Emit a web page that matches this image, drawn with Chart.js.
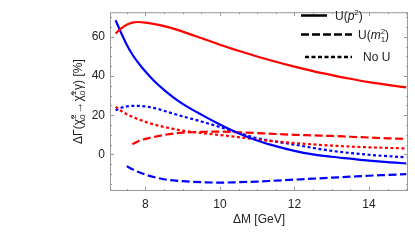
<!DOCTYPE html>
<html>
<head>
<meta charset="utf-8">
<script src="https://cdn.jsdelivr.net/npm/chart.js@4/dist/chart.umd.min.js"></script>
<style>
  html, body { margin: 0; padding: 0; background: #fff; }
  canvas { display: block; }
</style>
</head>
<body>
<canvas id="myChart" width="415" height="240"></canvas>
<script>
// ΔM grid [GeV]
const deltaM = [7.2, 7.35, 7.5, 7.65, 7.8, 8, 8.25, 8.5, 8.75, 9, 9.5, 10, 10.5, 11, 11.5, 12, 12.5, 13, 13.5, 14, 14.5, 15];

// U(p^2)
const redSolid  = [61.7, 64.3, 66.2, 67.3, 67.6, 67.3, 66.5, 65.5, 64.2, 62.7, 59.4, 56, 52.9, 50, 47.3, 44.8, 42.5, 40.5, 38.6, 36.9, 35.5, 34.2];
const blueSolid = [68.5, 62, 56, 51, 47, 42.3, 37.2, 32.9, 29.1, 25.8, 20.3, 15.3, 10.8, 7.1, 4.2, 1.8, 0, -1.2, -2.2, -3.2, -4, -4.6];
// U(m1^2)
const redDashed  = [null, null, null, 5.2, 6.6, 7.9, 9.0, 9.9, 10.6, 11.1, 11.5, 11.6, 11.3, 10.9, 10.4, 10, 9.7, 9.4, 9.0, 8.6, 8.2, 7.9];
const blueDashed = [null, null, -6, -7.6, -8.9, -10.3, -11.7, -12.7, -13.3, -13.7, -14.2, -14.4, -14.2, -13.9, -13.4, -12.9, -12.4, -11.9, -11.4, -10.9, -10.5, -10.1];
// No U
const redDotted  = [24.3, 22.2, 20.5, 19.2, 18, 16.6, 15.2, 14, 13, 12.1, 10.9, 9.9, 8.8, 7.6, 6.6, 5.8, 5.1, 4.5, 4, 3.6, 3.3, 3.0];
const blueDotted = [22.5, 23.8, 24.5, 24.8, 24.8, 24.5, 23.6, 22.3, 20.8, 19.4, 16.8, 14, 11, 8.3, 6.5, 5, 3.3, 1.8, 0.7, -0.2, -0.9, -1.5];

const xTickLabels = [8, 10, 12, 14];
const yTickLabels = [0, 20, 40, 60];
const legendLabels = ['U(p²)', 'U(m₁²)', 'No U'];

const FONT = '"Liberation Sans", Arial, sans-serif';
const dashes = { solid: [], dashed: [8, 3.5], dotted: [3, 2.5] };

function pts(ys) {
    return deltaM.map((x, i) => ({ x: x, y: ys[i] }));
}

function series(ys, color, dash) {
    return {
        data: pts(ys),
        borderColor: color,
        borderWidth: 2.2,
        borderDash: dash,
        pointRadius: 0,
        showLine: true,
        fill: false,
        cubicInterpolationMode: 'monotone'
    };
}

// frame with inward ticks, like the original
const framePlugin = {
    id: 'frame',
    afterDraw(chart) {
        const ctx = chart.ctx;
        const a = chart.chartArea;
        const xs = chart.scales.x, ys = chart.scales.y;
        ctx.save();
        ctx.strokeStyle = '#9a9a9a';
        ctx.lineWidth = 1;
        ctx.strokeRect(a.left + 0.5, a.top + 0.5, a.right - a.left - 1, a.bottom - a.top - 1);
        ctx.beginPath();
        for (let v = 7.5; v <= 15; v += 0.5) {
            const px = Math.round(xs.getPixelForValue(v)) + 0.5;
            const len = xTickLabels.includes(v) ? 4 : 2;
            ctx.moveTo(px, a.bottom); ctx.lineTo(px, a.bottom - len);
            ctx.moveTo(px, a.top); ctx.lineTo(px, a.top + len);
        }
        for (let v = -15; v <= 70; v += 5) {
            const py = Math.round(ys.getPixelForValue(v)) + 0.5;
            const len = yTickLabels.includes(v) ? 4 : 2;
            ctx.moveTo(a.left, py); ctx.lineTo(a.left + len, py);
            ctx.moveTo(a.right, py); ctx.lineTo(a.right - len, py);
        }
        ctx.stroke();

        // axis titles
        ctx.fillStyle = '#222';
        ctx.font = '12px ' + FONT;
        ctx.textAlign = 'center';
        ctx.textBaseline = 'alphabetic';
        ctx.fillText('ΔM [GeV]', (a.left + a.right) / 2, 223);

        ctx.translate(82, (a.top + a.bottom) / 2);
        ctx.rotate(-Math.PI / 2);
        ctx.textAlign = 'left';
        const parts = [
            ['ΔΓ(χ̃', 0, 12],
            ['0', 3, 8, '2'],
            ['→χ̃', 0, 12],
            ['0', 3, 8, '1'],
            ['γ) [%]', 0, 12]
        ];
        let total = 0;
        parts.forEach(p => {
            ctx.font = p[2] + 'px ' + FONT;
            total += ctx.measureText(p[0]).width + (p[3] ? 1 : 0);
        });
        let cx = -total / 2;
        parts.forEach(p => {
            ctx.font = p[2] + 'px ' + FONT;
            ctx.fillText(p[0], cx, p[1]);
            if (p[3]) ctx.fillText(p[3], cx, -6);
            cx += ctx.measureText(p[0]).width + (p[3] ? 1 : 0);
        });
        ctx.restore();

        // legend
        ctx.save();
        ctx.strokeStyle = '#000';
        ctx.lineWidth = 2.5;
        const rows = [
            { y: 15.5, x0: 301, x1: 327, dash: dashes.solid, tx: 335 },
            { y: 34.5, x0: 301, x1: 352, dash: [8, 3], tx: 358 },
            { y: 57, x0: 305, x1: 352, dash: [4, 2.5], tx: 363 }
        ];
        rows.forEach((r, i) => {
            ctx.setLineDash(r.dash);
            ctx.beginPath();
            ctx.moveTo(r.x0, r.y); ctx.lineTo(r.x1, r.y);
            ctx.stroke();
        });
        ctx.setLineDash([]);
        ctx.fillStyle = '#222';
        ctx.textBaseline = 'middle';
        ctx.textAlign = 'left';
        ctx.font = '12px ' + FONT;
        // U(p^2)
        let x = rows[0].tx;
        ctx.fillText('U(', x, rows[0].y + 1); x += ctx.measureText('U(').width;
        ctx.font = 'italic 12px ' + FONT;
        ctx.fillText('p', x, rows[0].y + 1); x += ctx.measureText('p').width;
        ctx.font = '8px ' + FONT;
        ctx.fillText('2', x, rows[0].y - 3); x += ctx.measureText('2').width;
        ctx.font = '12px ' + FONT;
        ctx.fillText(')', x, rows[0].y + 1);
        // U(m1^2)
        x = rows[1].tx;
        ctx.fillText('U(', x, rows[1].y + 1); x += ctx.measureText('U(').width;
        ctx.font = 'italic 12px ' + FONT;
        ctx.fillText('m', x, rows[1].y + 1); x += ctx.measureText('m').width;
        ctx.font = '8px ' + FONT;
        ctx.fillText('2', x, rows[1].y - 3);
        ctx.fillText('1', x, rows[1].y + 5); x += ctx.measureText('2').width;
        ctx.font = '12px ' + FONT;
        ctx.fillText(')', x, rows[1].y + 1);
        // No U
        ctx.fillText(legendLabels[2], rows[2].tx, rows[2].y + 1);
        ctx.restore();
    }
};

const ctx = document.getElementById('myChart').getContext('2d');
const chart = new Chart(ctx, {
    type: 'scatter',
    data: {
        datasets: [
            series(redSolid, '#ff0000', dashes.solid),
            series(blueSolid, '#0000ff', dashes.solid),
            series(redDashed, '#ff0000', dashes.dashed),
            series(blueDashed, '#0000ff', dashes.dashed),
            series(redDotted, '#ff0000', dashes.dotted),
            series(blueDotted, '#0000ff', dashes.dotted)
        ]
    },
    options: {
        responsive: false,
        animation: false,
        layout: { padding: { top: 7, right: 7, left: 0, bottom: 0 } },
        plugins: { legend: { display: false }, tooltip: { enabled: false } },
        scales: {
            x: {
                type: 'linear',
                min: 7.05,
                max: 15.05,
                grid: { display: false, drawTicks: false },
                border: { display: false },
                afterBuildTicks: s => { s.ticks = xTickLabels.map(v => ({ value: v })); },
                afterFit: s => { s.height = 49; },
                ticks: { color: '#222', font: { family: FONT, size: 12 }, padding: 6, maxRotation: 0 }
            },
            y: {
                type: 'linear',
                min: -18.7,
                max: 72.6,
                grid: { display: false, drawTicks: false },
                border: { display: false },
                afterBuildTicks: s => { s.ticks = yTickLabels.map(v => ({ value: v })); },
                afterFit: s => { s.width = 110; },
                ticks: { color: '#222', font: { family: FONT, size: 12 }, padding: 5 }
            }
        }
    },
    plugins: [framePlugin]
});
</script>
</body>
</html>
